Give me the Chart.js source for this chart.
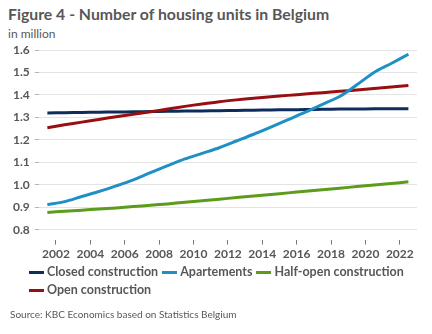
<!DOCTYPE html>
<html>
<head>
<meta charset="utf-8">
<script src="https://cdn.jsdelivr.net/npm/chart.js@4.4.1/dist/chart.umd.min.js"></script>
<style>
body{margin:0;background:#fff;font-family:Lato,"Open Sans",sans-serif;color:#575757}
#wrap{position:relative;width:432px;height:334px;overflow:hidden}
#chart{position:absolute;left:0;top:0}
.title{position:absolute;left:8px;top:4px;font-size:15.8px;font-weight:bold;white-space:nowrap}
.sub{position:absolute;left:8px;top:26px;font-size:12px}
#legend{position:absolute;left:29px;top:263px;width:392px;display:flex;flex-wrap:wrap;font-size:12.5px;font-weight:bold;line-height:18px}
.item{display:flex;align-items:center;margin-right:4px;white-space:nowrap}
.swatch{width:15px;height:3px;margin-right:3px}
.source{position:absolute;left:10px;top:308px;font-size:10px}
</style>
</head>
<body>
<div id="wrap">
<div class="title">Figure 4 - Number of housing units in Belgium</div>
<div class="sub">in million</div>
<canvas id="chart" width="432" height="334"></canvas>
<div id="legend"></div>
<div class="source">Source: KBC Economics based on Statistics Belgium</div>
</div>

<script>
// housing stock per year, in million units
let years = [2001,2002,2003,2004,2005,2006,2007,2008,2009,2010,2011,2012,2013,2014,2015,2016,2017,2018,2019,2020,2021,2022]

let closed = [1.320,1.321,1.322,1.323,1.324,1.325,1.326,1.327,1.328,1.329,1.330,1.331,1.332,1.333,1.334,1.335,1.336,1.337,1.337,1.338,1.338,1.338]
let apartments = [0.911,0.925,0.948,0.970,0.995,1.022,1.054,1.085,1.115,1.140,1.165,1.195,1.225,1.257,1.290,1.323,1.358,1.393,1.445,1.500,1.540,1.581]
let halfOpen = [0.877,0.882,0.887,0.892,0.897,0.903,0.909,0.915,0.922,0.929,0.936,0.943,0.950,0.957,0.964,0.971,0.978,0.985,0.992,0.999,1.006,1.013]
let open = [1.254,1.267,1.279,1.291,1.303,1.314,1.325,1.337,1.349,1.360,1.370,1.378,1.385,1.392,1.398,1.404,1.410,1.416,1.422,1.429,1.435,1.442]

let seriesNames = ["Closed construction","Apartements","Half-open construction","Open construction"]
let seriesColors = ["#0d2d5c","#1e90c3","#5c9b1c","#980f12"]
let drawOrder = [4,1,3,2]

let xTicks = [2002,2004,2006,2008,2010,2012,2014,2016,2018,2020,2022]
let yTicks = [0.8,0.9,1.0,1.1,1.2,1.3,1.4,1.5,1.6]


function toPoints(values){

// yearly figures sit in the middle of their year
return values.map((v,i)=>({x:years[i]+0.5,y:v}))

}


let allSeries = [closed,apartments,halfOpen,open]

let datasets = allSeries.map((values,i)=>({

label:seriesNames[i],
data:toPoints(values),
borderColor:seriesColors[i],
backgroundColor:seriesColors[i],
borderWidth:3,
pointRadius:0,
tension:0.3,
order:drawOrder[i]

}))


let font = {family:"Lato",size:12,weight:"bold"}

new Chart(document.getElementById("chart"),{

type:"line",

data:{datasets:datasets},

options:{

responsive:false,
animation:false,
layout:{padding:{left:8,right:15,top:50,bottom:71}},

plugins:{legend:{display:false},tooltip:{enabled:false}},

scales:{

x:{
type:"linear",
min:2001,
max:2023,
afterBuildTicks:axis=>{axis.ticks = xTicks.map(v=>({value:v}))},
grid:{drawOnChartArea:false,drawTicks:true,tickLength:5,color:"#7a7a7a"},
border:{display:false},
ticks:{color:"#575757",font:font,padding:2,maxRotation:0,callback:v=>String(v)}
},

y:{
min:0.756,
max:1.6,
afterBuildTicks:axis=>{axis.ticks = yTicks.map(v=>({value:v}))},
grid:{color:"#e4e4e4",tickLength:4,tickColor:"#b5b5b5"},
border:{display:false},
ticks:{color:"#575757",font:font,padding:5,callback:v=>v.toFixed(1)}
}

}

}

})


// legend lines drawn as short coloured bars
let legend = document.getElementById("legend")

seriesNames.forEach((name,i)=>{

let item = document.createElement("div")
item.className = "item"

let sw = document.createElement("span")
sw.className = "swatch"
sw.style.background = seriesColors[i]

item.appendChild(sw)
item.appendChild(document.createTextNode(name))
legend.appendChild(item)

})
</script>
</body>
</html>
